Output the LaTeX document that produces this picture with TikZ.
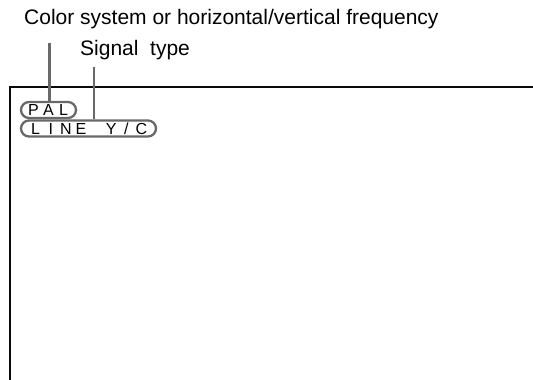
\documentclass[tikz,border=0pt]{standalone}
\usepackage{fontspec}
\setmainfont{Liberation Sans}
\usepackage{tikz}
\usetikzlibrary{
  positioning,
  calc
}
\definecolor{LeaderGray}{RGB}{105,105,105}
\definecolor{ScreenBlack}{RGB}{10,10,10}
\newcommand{\osdcell}[1]{\makebox[15.1pt][c]{#1}}
\tikzset{
  callout/.style={anchor=base west,inner sep=0pt,font=\fontsize{21}{25}\selectfont},
  osdpill/.style={draw=LeaderGray,line width=2.3pt,rounded corners=8pt,minimum height=16pt,inner sep=0pt,font=\fontsize{16}{18}\selectfont},
  leader/.style={draw=LeaderGray,line width=2.3pt},
  screen/.style={draw=ScreenBlack,line width=2pt}
}

\begin{document}
\begin{tikzpicture}[x=1pt,y=-1pt]
\useasboundingbox (0,0) rectangle (533,380);
\draw[screen] (10,380) -- (10,86.5) -- (533,86.5);
\node[callout] (colorlbl) at (24,24) {Color system or horizontal/vertical frequency};
\node[callout] (signallbl) at (80,55) {Signal\ \ type};
\node[osdpill, minimum width=55pt] (pal) at (48.5,110) {\osdcell{P}\osdcell{A}\osdcell{L}};
\node[osdpill, minimum width=135pt] (linebox) at (88.5,128.5) {\osdcell{L}\osdcell{I}\osdcell{N}\osdcell{E}\osdcell{}\osdcell{Y}\osdcell{/}\osdcell{C}};
\coordinate (colortip) at (49.5,43);
\coordinate (signaltip) at (94,67);
\draw[leader] (colortip |- pal.north) -- (colortip);
\draw[leader] (signaltip |- linebox.north) -- (signaltip);
\end{tikzpicture}
\end{document}
